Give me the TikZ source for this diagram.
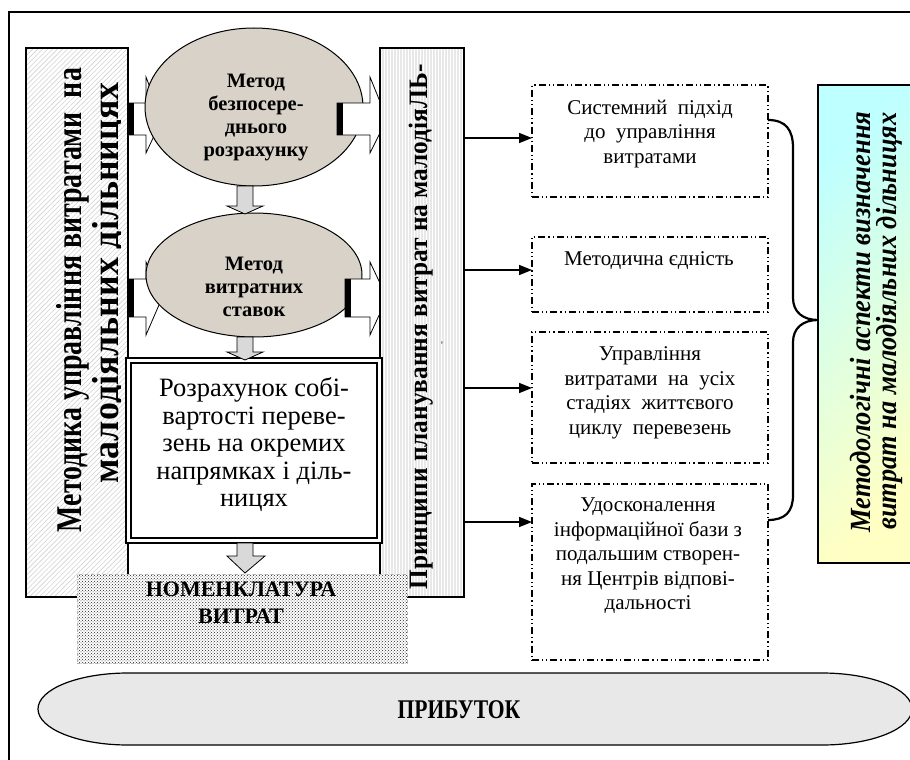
\documentclass[tikz,border=0pt]{standalone}
\usepackage{fontspec}
\setmainfont{Liberation Serif}
\usepackage{graphicx}
\usetikzlibrary{arrows.meta,patterns,patterns.meta,shapes.geometric}
\definecolor{stone}{RGB}{216,210,200}
\definecolor{arrgray}{RGB}{217,217,217}
\definecolor{cyanL}{RGB}{190,255,255}
\definecolor{yelL}{RGB}{255,255,195}
\definecolor{pribfill}{RGB}{232,232,232}
\newcommand\fitv[3]{\scalebox{1}[#3]{\resizebox{#1}{!}{#2}}}
\begin{document}
\begin{tikzpicture}[x=1pt,y=-1pt,
  every node/.style={inner sep=0pt, outer sep=0pt},
  blk/.style={draw=black, line width=0.8pt, fill=white},
  garr/.style={draw=black, line width=0.8pt, fill=arrgray},
  meth/.style={ellipse, draw=black, line width=1pt, fill=stone},
  dbox/.style={draw=black, line width=1.1pt, dash pattern=on 7pt off 3pt on 1.2pt off 3pt on 1.2pt off 3pt},
  conn/.style={line width=1.6pt, -{Triangle[length=13pt,width=10pt]}},
  bt/.style={font=\bfseries\fontsize{20.5}{23}\selectfont, align=center},
  rt/.style={font=\fontsize{21}{24.5}\selectfont, align=center},
]
\useasboundingbox (0,0) rectangle (910,760);
\fill[white] (0,0) rectangle (910,760);
\draw[line width=1.2pt] (9,770) -- (9,12) -- (920,12);

% left bar
\node[draw, line width=1.3pt, minimum width=102pt, minimum height=549pt, anchor=north west,
  pattern={Lines[angle=45,distance=3.5pt,line width=0.6pt]}, pattern color=gray!35] (lbar) at (26,48) {};
\node[rotate=90, anchor=base] (lt1) at (81,300) {\fitv{464pt}{\bfseries Методика управління витратами\ \ на}{1.3}};
\begin{scope}
\clip (85,48) rectangle (120,597);
\node[rotate=90, anchor=base] (lt2) at (118,283) {\fitv{401pt}{\bfseries малодіяльних дільницях}{1.05}};
\end{scope}

% left block arrows (behind ellipses)
\filldraw[blk] (128,103) -- (146,103) -- (146,77) -- (162,119) -- (146,153) -- (146,135) -- (128,135) -- cycle;
\fill (128,103) rectangle (134,135);
\filldraw[blk] (128,279) -- (146,279) -- (146,262) -- (162,298) -- (146,335) -- (146,317) -- (128,317) -- cycle;
\fill (128,279) rectangle (134,317);

% ellipses
\node[meth, minimum width=218pt, minimum height=158pt] (e1) at (254,107) {};
\node[bt] (e1t) at (256,117) {Метод\\безпосере-\\днього\\розрахунку};
\node[meth, minimum width=216pt, minimum height=124pt] (e2) at (254,275) {};
\node[bt] (e2t) at (254,287) {Метод\\витратних\\ставок};

% right block arrows
\filldraw[blk] (337,103) -- (370,103) -- (370,77) -- (387,119) -- (370,153) -- (370,135) -- (337,135) -- cycle;
\fill (337,103) rectangle (343,135);
\filldraw[blk] (345,279) -- (370,279) -- (370,262) -- (387,298) -- (370,335) -- (370,317) -- (345,317) -- cycle;
\fill (345,279) rectangle (351,317);

% right bar
\node[draw, line width=1.3pt, minimum width=84pt, minimum height=549pt, anchor=north west,
  preaction={fill=gray!18}, pattern={Lines[angle=90,distance=3pt,line width=1pt]}, pattern color=white] (rbar) at (380,48) {};
\node[rotate=90, anchor=base] (rt1) at (427,327) {\fitv{525pt}{\bfseries Принципи планування витрат на малодіяЛЬ-}{1.05}};
\node[rotate=90, font=\fontsize{9}{9}\selectfont] (rdash) at (443,343) {-};

% double box
\node[draw, line width=1.8pt, fill=white, minimum width=256pt, minimum height=185pt, anchor=north west] (calc) at (126,358) {};
\node[draw, line width=2.3pt, minimum width=246pt, minimum height=175pt] (calcin) at (calc.center) {};
\node[font=\fontsize{26.5}{27.5}\selectfont, align=center] (calct) at (254,445) {Розрахунок собі-\\вартості переве-\\зень на окремих\\напрямках і діль-\\ницях};

% down arrows
\filldraw[garr] (237,186) -- (253,186) -- (253,206) -- (263,206) -- (245,214) -- (227,206) -- (237,206) -- cycle;
\filldraw[garr] (237,337) -- (253,337) -- (253,352) -- (263,352) -- (245,360) -- (227,352) -- (237,352) -- cycle;
\filldraw[garr] (237,543) -- (253,543) -- (253,556) -- (265,556) -- (245,573) -- (227,556) -- (237,556) -- cycle;

% nomenclature
\node[draw=gray!60, dashed, line width=0.6pt, preaction={fill=white}, pattern=crosshatch dots, pattern color=black!85,
  minimum width=330pt, minimum height=89pt, anchor=north west] (nom) at (77,574) {};
\node[font=\bfseries\fontsize{22}{27}\selectfont, align=center] (nomt) at (241,603) {НОМЕНКЛАТУРА\\ВИТРАТ};

% dashed boxes
\node[dbox, minimum width=236pt, minimum height=112pt, anchor=north west] (b1) at (532,85) {};
\node[rt] (b1t) at (650,134) {Системний\ \ підхід\\до\ \ управління\\витратами};
\node[dbox, minimum width=236pt, minimum height=75pt, anchor=north west] (b2) at (532,237) {};
\node[rt] (b2t) at (649,261) {Методична єдність};
\node[dbox, minimum width=236pt, minimum height=131pt, anchor=north west] (b3) at (532,332) {};
\node[rt] (b3t) at (650,393) {Управління\\витратами\ \ на\ \ усіх\\стадіях\ \ життєвого\\циклу\ \ перевезень};
\node[dbox, minimum width=236pt, minimum height=176pt, anchor=north west] (b4) at (532,484) {};
\node[rt] (b4t) at (648,556) {Удосконалення\\інформаційної бази з\\подальшим створен-\\ня Центрів відпові-\\дальності};

% connectors
\draw[conn] (rbar.east |- 0,138) -- (b1.west |- 0,138);
\draw[conn] (rbar.east |- 0,270) -- (b2.west |- 0,270);
\draw[conn] (rbar.east |- 0,388) -- (b3.west |- 0,388);
\draw[conn] (rbar.east |- 0,522) -- (b4.west |- 0,522);

% gradient box
\node[draw, line width=1.2pt, minimum width=97pt, minimum height=478pt, anchor=north west,
  top color=cyanL, bottom color=yelL, shading angle=45] (grad) at (818,85) {};
\node[rotate=90, anchor=base] (g1) at (870,322) {\fitv{421pt}{\bfseries\itshape Методологічні аспекти визначення}{1.1}};
\node[rotate=90, anchor=base] (g2) at (896,321) {\fitv{417pt}{\bfseries\itshape витрат на малодіяльних дільницях}{1.1}};

% brace
\coordinate (br1) at (768,120);
\coordinate (brt) at (818,320);
\coordinate (br2) at (768,520);
\draw[line width=2.2pt] (br1) .. controls (786,120) and (793,130) .. (793,148) -- (793,298)
  .. controls (793,312) and (803,320) .. (brt)
  .. controls (803,320) and (793,328) .. (793,342) -- (793,495)
  .. controls (793,512) and (785,520) .. (br2);

% profit
\path[draw, line width=1.2pt, fill=pribfill] (128,673) -- (822,673)
  arc[start angle=-90, end angle=90, x radius=90, y radius=36] -- (128,745)
  arc[start angle=90, end angle=270, x radius=90, y radius=36] -- cycle;
\node (prib) at (459,710) {\scalebox{0.8}[1]{\bfseries\fontsize{27}{27}\selectfont ПРИБУТОК}};
\end{tikzpicture}
\end{document}
